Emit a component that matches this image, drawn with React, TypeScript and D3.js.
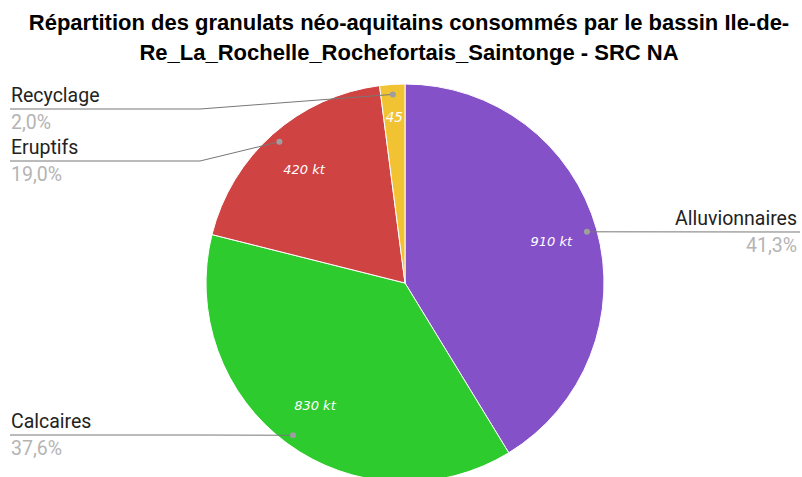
import React from "react";
import * as d3 from "d3";

const categories = ["Alluvionnaires", "Calcaires", "Eruptifs", "Recyclage"];
const values = [910, 830, 420, 45];
const sliceLabels = ["910 kt", "830 kt", "420 kt", "45"];
const percentLabels = ["41,3%", "37,6%", "19,0%", "2,0%"];
const colors = ["#8451c8", "#2ecb2e", "#cf4343", "#f1c232"];
const titleLines = [
  "Répartition des granulats néo-aquitains consommés par le bassin Ile-de-",
  "Re_La_Rochelle_Rochefortais_Saintonge - SRC NA",
];

const W = 802;
const H = 477;
const cx = 405;
const cy = 283;
const R = 199;

// label layout: side and leader line y for each category
const labelLayout = [
  { side: "right", y: 232 },
  { side: "left", y: 435 },
  { side: "left", y: 161 },
  { side: "left", y: 109 },
];

export default function App() {
  const pie = d3
    .pie<number>()
    .sort(null)
    .value((d) => d);
  const arcs = pie(values);
  const total = d3.sum(values);
  const arc = d3.arc<d3.PieArcDatum<number>>().innerRadius(0).outerRadius(R);
  const labelArc = d3
    .arc<d3.PieArcDatum<number>>()
    .innerRadius(152)
    .outerRadius(152);
  const smallLabelArc = d3
    .arc<d3.PieArcDatum<number>>()
    .innerRadius(166)
    .outerRadius(166);
  const dotArc = d3
    .arc<d3.PieArcDatum<number>>()
    .innerRadius(189)
    .outerRadius(189);

  return (
    <svg
      width={W}
      height={H}
      style={{ position: "absolute", left: 0, top: 0, background: "#fff" }}
    >
      <rect width={W} height={H} fill="#fff" />
      {titleLines.map((t, i) => (
        <text
          key={i}
          x={409}
          y={30 + i * 30}
          textAnchor="middle"
          fontFamily="'Liberation Sans', Arial, sans-serif"
          fontWeight="bold"
          fontSize={22}
          fill="#000"
        >
          {t}
        </text>
      ))}
      <g transform={`translate(${cx},${cy})`}>
        {arcs.map((a, i) => (
          <path
            key={i}
            d={arc(a) as string}
            fill={colors[i]}
            stroke="#fff"
            strokeWidth={1}
          />
        ))}
        {arcs.map((a, i) => {
          const small = values[i] / total < 0.05;
          const [x, y] = small ? smallLabelArc.centroid(a) : labelArc.centroid(a);
          return (
            <text
              key={i}
              x={x}
              y={y}
              dy="0.35em"
              textAnchor="middle"
              fontFamily="'DejaVu Sans', sans-serif"
              fontStyle="italic"
              fontSize={small ? 13.5 : 13}
              fill="#fff"
            >
              {sliceLabels[i]}
            </text>
          );
        })}
      </g>
      {arcs.map((a, i) => {
        const [dx, dy] = dotArc.centroid(a);
        const px = cx + dx;
        const py = cy + dy;
        const L = labelLayout[i];
        const lineY = L.y;
        let pts: [number, number][];
        let tx: number;
        let anchor: string;
        if (L.side === "right") {
          pts = [
            [px, py],
            [800, lineY],
          ];
          tx = 797;
          anchor = "end";
        } else {
          pts = [
            [px, py],
            [200, lineY],
            [10, lineY],
          ];
          tx = 11;
          anchor = "start";
        }
        const line = d3.line();
        return (
          <g key={i}>
            <path
              d={line(pts) as string}
              fill="none"
              stroke="#777"
              strokeWidth={1}
            />
            <circle cx={px} cy={py} r={3} fill="#9e9e9e" />
            <text
              x={tx}
              y={lineY - 7}
              textAnchor={anchor}
              fontFamily="Roboto, Arial, sans-serif"
              fontSize={19.5}
              fill="#222"
            >
              {categories[i]}
            </text>
            <text
              x={tx}
              y={lineY + 20}
              textAnchor={anchor}
              fontFamily="Roboto, Arial, sans-serif"
              fontSize={19.5}
              fill="#b4b4b4"
            >
              {percentLabels[i]}
            </text>
          </g>
        );
      })}
    </svg>
  );
}
